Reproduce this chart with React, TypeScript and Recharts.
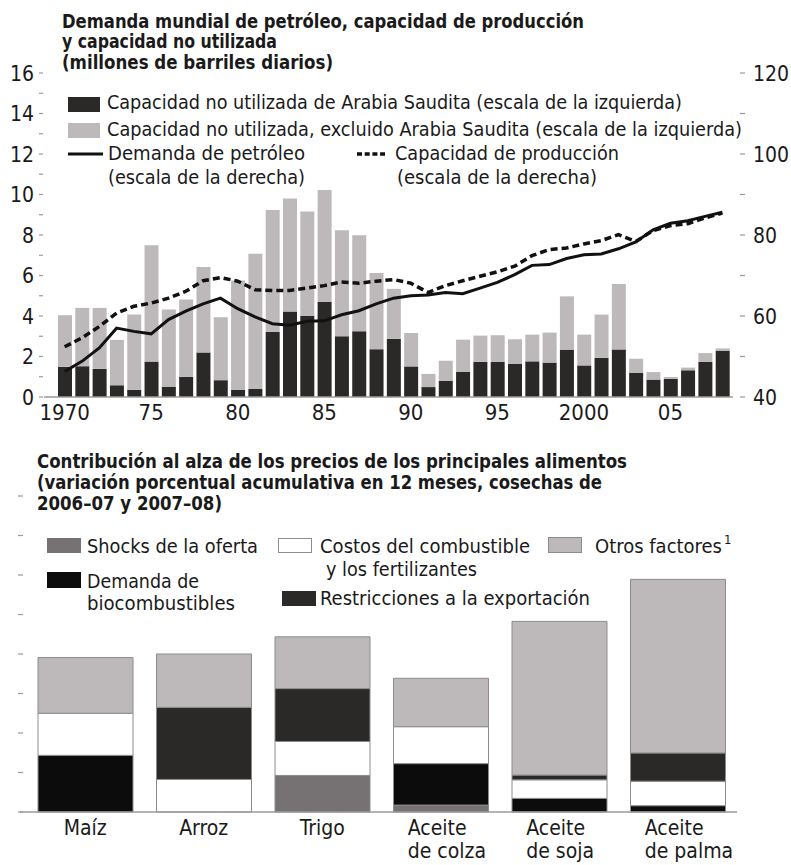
import { ComposedChart, BarChart, Bar, Line, XAxis, YAxis } from 'recharts';

const FONT = '"Liberation Sans Narrow", "DejaVu Sans Condensed", "Arial Narrow", sans-serif';
const INK = '#1a1a1a';
const TICK_GRAY = '#9a9a9a';

// --- top panel: oil demand, capacity, spare capacity ---
const years = [
    1970, 1971, 1972, 1973, 1974, 1975, 1976, 1977, 1978, 1979,
    1980, 1981, 1982, 1983, 1984, 1985, 1986, 1987, 1988, 1989,
    1990, 1991, 1992, 1993, 1994, 1995, 1996, 1997, 1998, 1999,
    2000, 2001, 2002, 2003, 2004, 2005, 2006, 2007, 2008,
];
// millones de barriles diarios (escala izquierda)
const saudiSpare = [
    1.49, 1.52, 1.39, 0.58, 0.36, 1.75, 0.5, 1.0, 2.2, 0.83,
    0.36, 0.4, 3.22, 4.22, 4.0, 4.69, 3.0, 3.25, 2.36, 2.87,
    1.51, 0.49, 0.79, 1.25, 1.74, 1.73, 1.63, 1.76, 1.7, 2.34,
    1.56, 1.93, 2.35, 1.2, 0.86, 0.9, 1.32, 1.74, 2.29,
];
const otherSpare = [
    2.55, 2.88, 3.01, 2.24, 3.71, 5.75, 3.82, 3.82, 4.22, 3.11,
    5.39, 6.68, 6.02, 5.58, 5.16, 5.53, 5.23, 4.74, 3.76, 2.47,
    1.65, 0.65, 1.0, 1.58, 1.29, 1.32, 1.22, 1.32, 1.48, 2.63,
    1.52, 2.14, 3.23, 0.69, 0.37, 0.09, 0.13, 0.43, 0.11,
];
// escala derecha
const oilDemand = [
    46.3, 48.8, 52.1, 57.0, 56.2, 55.6, 59.1, 61.2, 63.0, 64.4,
    61.8, 59.8, 58.1, 57.7, 58.7, 58.8, 60.3, 61.3, 63.0, 64.4,
    65.0, 65.2, 65.8, 65.5, 66.9, 68.3, 70.2, 72.5, 72.7, 74.2,
    75.1, 75.3, 76.6, 78.3, 81.3, 82.9, 83.5, 84.6, 85.6,
];
const productionCapacity = [
    52.4, 54.6, 57.4, 60.7, 62.4, 63.2, 64.4, 66.1, 68.7, 69.5,
    68.6, 66.5, 66.3, 66.3, 66.9, 67.5, 68.4, 68.1, 68.6, 69.0,
    68.1, 65.8, 67.5, 68.7, 69.8, 70.9, 72.3, 74.9, 76.4, 76.8,
    77.8, 78.6, 80.1, 78.4, 81.1, 82.3, 82.8, 84.2, 85.4,
];
const yearTickValues = [1970, 1975, 1980, 1985, 1990, 1995, 2000, 2005];
const yearTickLabels = ['1970', '75', '80', '85', '90', '95', '2000', '05'];
const leftTicksTop = [0, 1, 2, 3, 4, 5, 6, 7, 8, 9, 10, 11, 12, 13, 14, 15, 16];
const rightTicksTop = [40, 50, 60, 70, 80, 90, 100, 110, 120];

// --- bottom panel: contributions to food price increases ---
const crops = [['Maíz'], ['Arroz'], ['Trigo'], ['Aceite', 'de colza'], ['Aceite', 'de soja'], ['Aceite', 'de palma']];
const supplyShocks = [0, 0, 18.5, 3.5, 0, 0];
const biofuelDemand = [28.7, 0, 0, 21, 6.9, 3.2];
const fuelFertilizer = [21.3, 16.5, 17.2, 18.7, 9.4, 12.4];
const exportRestrictions = [0, 36.5, 26.8, 0, 2.4, 14.3];
const otherFactors = [28.2, 27, 26.2, 24.5, 77.8, 87.9];
const foodTicks = [0, 20, 40, 60, 80, 100, 120, 140, 160];

const oilData = years.map((year, i) => ({
    year,
    saudi: saudiSpare[i],
    other: otherSpare[i],
    demand: oilDemand[i],
    capacity: productionCapacity[i],
}));

const foodData = crops.map((lines, i) => ({
    crop: lines.join(' '),
    shocks: supplyShocks[i],
    biofuel: biofuelDemand[i],
    fuel: fuelFertilizer[i],
    exports: exportRestrictions[i],
    other: otherFactors[i],
}));

const textStyle = { fontFamily: FONT, fill: INK };

const YearTick = ({ x, y, payload }: any) => {
    const idx = yearTickValues.indexOf(payload.value);
    if (idx < 0) return null;
    return (
        <text x={x} y={y + 23} textAnchor="middle" fontSize={22} style={textStyle}>
            {yearTickLabels[idx]}
        </text>
    );
};

const LeftTick = ({ x, y, payload }: any) => (
    <g>
        <line x1={x - 5} x2={x - 1} y1={y} y2={y} stroke={TICK_GRAY} strokeWidth={1.2} />
        {payload.value % 2 === 0 && (
            <text x={x - 10} y={y + 7.5} textAnchor="end" fontSize={21} style={textStyle}>
                {payload.value}
            </text>
        )}
    </g>
);

const RightTick = ({ x, y, payload }: any) => (
    <g>
        <line x1={x + 7} x2={x + 12} y1={y} y2={y} stroke={TICK_GRAY} strokeWidth={1.2} />
        {payload.value % 20 === 0 && (
            <text x={x + 20} y={y + 7.5} textAnchor="start" fontSize={21} style={textStyle}>
                {payload.value}
            </text>
        )}
    </g>
);

const FoodLeftTick = ({ x, y }: any) => (
    <line x1={x - 2} x2={x + 3} y1={y} y2={y} stroke={TICK_GRAY} strokeWidth={1.2} />
);

const FoodRightTick = ({ x, y, payload }: any) => (
    <g>
        <line x1={x + 1} x2={x + 6} y1={y} y2={y} stroke={TICK_GRAY} strokeWidth={1.2} />
        {payload.value % 40 === 0 && (
            <text x={x + 19} y={y + 7.5} textAnchor="start" fontSize={21} style={textStyle}>
                {payload.value}
            </text>
        )}
    </g>
);

const CropTick = ({ x, y, payload }: any) => {
    const lines = crops.find((c) => c.join(' ') === payload.value) || [payload.value];
    return (
        <text x={x} y={y} fontSize={21} style={textStyle}>
            {lines.map((line, i) => (
                <tspan key={i} x={lines.length > 1 ? x - 33 : x} textAnchor={lines.length > 1 ? 'start' : 'middle'} y={y + 23 + i * 23}>
                    {line}
                </tspan>
            ))}
        </text>
    );
};

// a text line stretched to the width it has in the source
const Note = ({ x, y, to, bold, size = 20, children }: any) => (
    <text
        x={x}
        y={y}
        textLength={to - x}
        lengthAdjust="spacingAndGlyphs"
        fontSize={size}
        fontWeight={bold ? 700 : 400}
        style={textStyle}
    >
        {children}
    </text>
);

function Notes() {
    return (
        <svg width={791} height={865} style={{ position: 'absolute', left: 0, top: 0, pointerEvents: 'none' }}>
            {/* top title */}
            <Note x={62} y={28} to={584} bold size={19}>Demanda mundial de petróleo, capacidad de producción</Note>
            <Note x={62} y={48} to={277} bold size={19}>y capacidad no utilizada</Note>
            <Note x={62} y={69} to={333} bold size={19}>(millones de barriles diarios)</Note>

            {/* top legend */}
            <rect x={68} y={97} width={32} height={15} fill="#2b2927" />
            <Note x={107} y={109} to={682}>Capacidad no utilizada de Arabia Saudita (escala de la izquierda)</Note>
            <rect x={68} y={123} width={32} height={15} fill="#bdb9bb" />
            <Note x={107} y={136} to={742}>Capacidad no utilizada, excluido Arabia Saudita (escala de la izquierda)</Note>
            <line x1={68} x2={103} y1={154} y2={154} stroke="#111" strokeWidth={3} />
            <Note x={108} y={160} to={305}>Demanda de petróleo</Note>
            <Note x={108} y={184} to={305}>(escala de la derecha)</Note>
            <line x1={357} x2={385} y1={154} y2={154} stroke="#111" strokeWidth={3.5} strokeDasharray="5 2.7" />
            <Note x={395} y={160} to={619}>Capacidad de producción</Note>
            <Note x={397} y={184} to={597}>(escala de la derecha)</Note>

            {/* bottom title */}
            <Note x={37} y={468} to={627} bold size={19}>Contribución al alza de los precios de los principales alimentos</Note>
            <Note x={37} y={489} to={602} bold size={19}>(variación porcentual acumulativa en 12 meses, cosechas de</Note>
            <Note x={37} y={510} to={222} bold size={19}>2006–07 y 2007–08)</Note>

            {/* bottom legend */}
            <rect x={47} y={538} width={34} height={15} fill="#767273" />
            <Note x={87} y={553} to={258}>Shocks de la oferta</Note>
            <rect x={278.5} y={538.5} width={33} height={14} fill="#fff" stroke="#8c8c8c" />
            <Note x={320} y={553} to={530}>Costos del combustible</Note>
            <Note x={326} y={576} to={477}>y los fertilizantes</Note>
            <rect x={548.5} y={537.5} width={33} height={15} fill="#bdb9bb" stroke="#8c8c8c" />
            <Note x={595} y={553} to={722}>Otros factores</Note>
            <text x={724} y={544} fontSize={13} style={textStyle}>1</text>
            <rect x={47} y={572} width={34} height={16} fill="#0c0c0c" />
            <Note x={87} y={588} to={199}>Demanda de</Note>
            <Note x={87} y={610} to={235}>biocombustibles</Note>
            <rect x={282} y={591} width={34} height={15} fill="#2b2927" />
            <Note x={320} y={605} to={590}>Restricciones a la exportación</Note>
        </svg>
    );
}

export default function App() {
    return (
        <div style={{ position: 'absolute', left: 0, top: 0, width: 791, height: 865, background: '#fff', overflow: 'hidden' }}>
            <div style={{ position: 'absolute', left: 0, top: 0 }}>
                <ComposedChart width={791} height={440} data={oilData} margin={{ top: 73, right: 0, bottom: 0, left: 0 }} barSize={14}>
                    <XAxis
                        dataKey="year"
                        height={43}
                        interval={0}
                        tickLine={false}
                        tickSize={0}
                        tickMargin={0}
                        axisLine={{ stroke: TICK_GRAY, strokeWidth: 1.5 }}
                        padding={{ left: 12, right: 2 }}
                        tick={<YearTick />}
                    />
                    <YAxis
                        yAxisId="left"
                        domain={[0, 16]}
                        ticks={leftTicksTop}
                        interval={0}
                        width={44}
                        axisLine={false}
                        tickLine={false}
                        tickSize={0}
                        tickMargin={0}
                        tick={<LeftTick />}
                    />
                    <YAxis
                        yAxisId="right"
                        orientation="right"
                        domain={[40, 120]}
                        ticks={rightTicksTop}
                        interval={0}
                        width={58}
                        axisLine={false}
                        tickLine={false}
                        tickSize={0}
                        tickMargin={0}
                        tick={<RightTick />}
                    />
                    <Bar yAxisId="left" dataKey="saudi" stackId="spare" fill="#2b2927" isAnimationActive={false} />
                    <Bar yAxisId="left" dataKey="other" stackId="spare" fill="#bdb9bb" isAnimationActive={false} />
                    <Line yAxisId="right" dataKey="demand" type="linear" stroke="#111" strokeWidth={3} dot={false} isAnimationActive={false} />
                    <Line yAxisId="right" dataKey="capacity" type="linear" stroke="#111" strokeWidth={3.5} strokeDasharray="7 4" dot={false} isAnimationActive={false} />
                </ComposedChart>
            </div>
            <div style={{ position: 'absolute', left: 0, top: 440 }}>
                <BarChart width={791} height={425} data={foodData} margin={{ top: 56, right: 0, bottom: 0, left: 0 }} barSize={95}>
                    <XAxis
                        dataKey="crop"
                        height={53}
                        interval={0}
                        tickLine={false}
                        tickSize={0}
                        tickMargin={0}
                        axisLine={{ stroke: TICK_GRAY, strokeWidth: 1.5 }}
                        padding={{ left: 6, right: 0 }}
                        tick={<CropTick />}
                    />
                    <YAxis
                        yAxisId="left"
                        domain={[0, 160]}
                        ticks={foodTicks}
                        interval={0}
                        width={20}
                        axisLine={false}
                        tickLine={false}
                        tickSize={0}
                        tickMargin={0}
                        tick={<FoodLeftTick />}
                    />
                    <YAxis
                        yAxisId="right"
                        orientation="right"
                        domain={[0, 160]}
                        ticks={foodTicks}
                        interval={0}
                        width={54}
                        axisLine={false}
                        tickLine={false}
                        tickSize={0}
                        tickMargin={0}
                        tick={<FoodRightTick />}
                    />
                    <Bar yAxisId="left" dataKey="shocks" stackId="f" fill="#767273" stroke="#8c8c8c" strokeWidth={1} isAnimationActive={false} />
                    <Bar yAxisId="left" dataKey="biofuel" stackId="f" fill="#0c0c0c" stroke="#8c8c8c" strokeWidth={1} isAnimationActive={false} />
                    <Bar yAxisId="left" dataKey="fuel" stackId="f" fill="#ffffff" stroke="#8c8c8c" strokeWidth={1} isAnimationActive={false} />
                    <Bar yAxisId="left" dataKey="exports" stackId="f" fill="#2b2927" stroke="#8c8c8c" strokeWidth={1} isAnimationActive={false} />
                    <Bar yAxisId="left" dataKey="other" stackId="f" fill="#bdb9bb" stroke="#8c8c8c" strokeWidth={1} isAnimationActive={false} />
                </BarChart>
            </div>
            <Notes />
        </div>
    );
}
